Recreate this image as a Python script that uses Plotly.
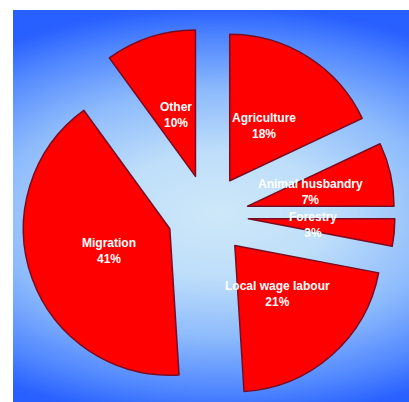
import numpy as np
import plotly.graph_objects as go

labels = ["Agriculture", "Animal husbandry", "Forestry", "Local wage labour", "Migration", "Other"]
values = [18, 7, 3, 21, 41, 10]

W, H = 409, 402
PULL = 0.277

# pie domain (paper)
dom_x = [19 / W, 397 / W]
dom_y = [0.0, 1 - 28 / H]

fig = go.Figure()

# background gradient (decorative)
gx = np.linspace(0, 1, 80)
gy = np.linspace(0, 1, 80)
XX, YY = np.meshgrid(gx, gy)
cx, cy = 0.52, 0.48
Z = np.sqrt(((XX - cx) / 0.95) ** 2 + ((YY - cy) / 0.53) ** 2)
Z = np.clip(Z, 0, 1)
fig.add_trace(go.Heatmap(
    x=gx, y=gy, z=Z, zmin=0, zmax=1, zsmooth="best", showscale=False, hoverinfo="skip",
    colorscale=[[0, "rgb(205,232,248)"], [0.3, "rgb(190,222,250)"], [0.6, "rgb(140,186,252)"],
                [0.85, "rgb(80,135,255)"], [1, "rgb(40,95,255)"]],
    xaxis="x", yaxis="y",
))

fig.add_trace(go.Pie(
    labels=labels, values=values, sort=False, direction="clockwise", rotation=0,
    pull=[PULL] * len(values), textinfo="none", hoverinfo="label+percent",
    marker=dict(colors=["#ff0000"] * len(values), line=dict(color="#7a0c22", width=1.5)),
    domain=dict(x=dom_x, y=dom_y), showlegend=False,
))

# label positions derived from the slice angles
wpx = (dom_x[1] - dom_x[0]) * W
hpx = (dom_y[1] - dom_y[0]) * H
Cx = (dom_x[0] + dom_x[1]) / 2 * W
Cy = (1 - (dom_y[0] + dom_y[1]) / 2) * H
R = min(wpx, hpx) / 2 / (1 + PULL)
tot = sum(values)
cum = 0
for lab, v in zip(labels, values):
    mid = (cum + v / 2) / tot * 2 * np.pi
    cum += v
    d = PULL * R + 0.44 * R
    px = Cx + d * np.sin(mid)
    py = Cy - d * np.cos(mid)
    fig.add_annotation(
        x=px / W, y=1 - py / H, xref="paper", yref="paper", showarrow=False,
        xanchor="center", yanchor="middle",
        text=f"{lab}<br>{round(v / tot * 100)}%", align="center",
        font=dict(family="Liberation Sans, Arial", size=12, color="white", weight="bold"),
    )

fig.update_layout(
    width=W, height=H, margin=dict(l=0, r=0, t=0, b=0),
    paper_bgcolor="white", plot_bgcolor="white",
    xaxis=dict(domain=[13 / W, 1], range=[0, 1], visible=False, fixedrange=True),
    yaxis=dict(domain=[0, 1 - 10 / H], range=[0, 1], visible=False, fixedrange=True),
)

fig.write_html("out.html")
